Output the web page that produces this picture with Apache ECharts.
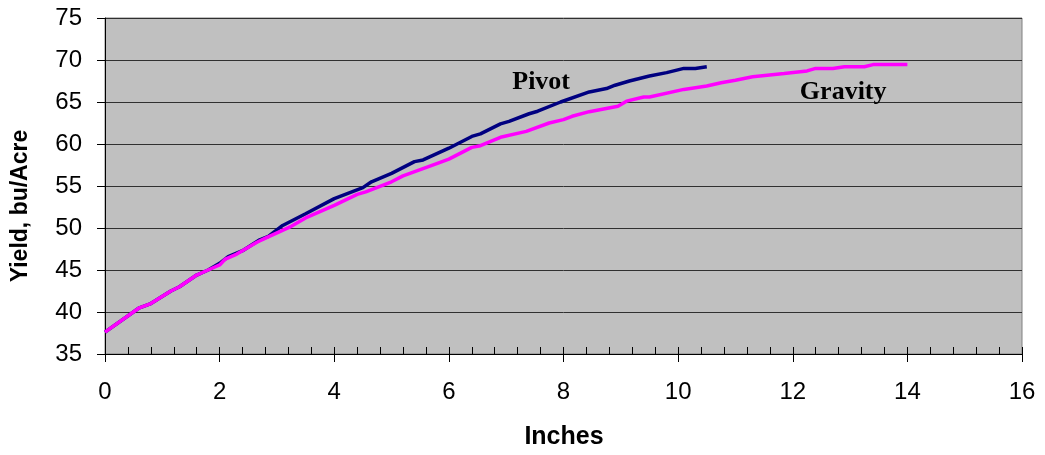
<!DOCTYPE html>
<html>
<head>
<meta charset="utf-8">
<script src="https://cdn.jsdelivr.net/npm/echarts@6/dist/echarts.min.js"></script>
<style>
  html, body { margin: 0; padding: 0; background: #fff; }
  #chart { width: 1045px; height: 455px; }
</style>
</head>
<body>
<div id="chart"></div>
<script>
// Yield response to applied water, by irrigation method
const pivotInches = [0, 0.6, 0.8, 1.15, 1.3, 1.6, 1.8, 2.0, 2.15, 2.4, 2.7, 2.85, 3.1, 3.5, 4.0, 4.5, 4.65, 5.0, 5.4, 5.55, 6.0, 6.4, 6.55, 6.9, 7.05, 7.4, 7.55, 7.95, 8.45, 8.75, 8.9, 9.15, 9.5, 9.8, 10.1, 10.3, 10.5];
const pivotYield  = [37.6, 40.5, 41.0, 42.5, 43.0, 44.4, 45.0, 45.8, 46.6, 47.3, 48.6, 49.0, 50.3, 51.7, 53.5, 54.8, 55.5, 56.5, 57.9, 58.1, 59.5, 60.9, 61.2, 62.4, 62.7, 63.6, 63.9, 65.0, 66.2, 66.6, 67.0, 67.5, 68.1, 68.5, 69.0, 69.0, 69.2];

const gravityInches = [0, 0.6, 0.8, 1.15, 1.3, 1.6, 1.8, 2.0, 2.1, 2.3, 2.65, 2.8, 3.25, 3.5, 4.0, 4.4, 4.55, 5.0, 5.2, 5.8, 6.0, 6.4, 6.55, 6.9, 7.35, 7.75, 8.0, 8.15, 8.45, 8.95, 9.1, 9.4, 9.5, 10.1, 10.5, 10.75, 11.0, 11.3, 11.85, 12.25, 12.4, 12.7, 12.9, 13.25, 13.4, 14.0];
const gravityYield  = [37.6, 40.5, 41.0, 42.5, 43.0, 44.4, 45.0, 45.6, 46.3, 46.9, 48.3, 48.8, 50.2, 51.2, 52.7, 54.0, 54.3, 55.5, 56.2, 57.7, 58.2, 59.6, 59.8, 60.8, 61.5, 62.5, 62.9, 63.3, 63.85, 64.5, 65.1, 65.6, 65.6, 66.5, 66.9, 67.3, 67.6, 68.0, 68.4, 68.7, 69.0, 69.0, 69.2, 69.2, 69.45, 69.45];

const seriesNames = ['Pivot', 'Gravity'];
// where each curve's name is written, in data units (inches, bu/acre)
const nameAnchors = [[7.61, 67.38], [12.88, 66.19]];

const yAxisTitle = 'Yield, bu/Acre';
const xAxisTitle = 'Inches';

const pairs = (xs, ys) => xs.map((x, i) => [x, ys[i]]);

const chart = echarts.init(document.getElementById('chart'));

const sans = '"Liberation Sans", Arial, sans-serif';
const axisFont = { fontFamily: sans, fontSize: 24, color: '#000' };

chart.setOption({
  animation: false,
  backgroundColor: '#fff',
  grid: {
    left: 105, right: 23, top: 18, bottom: 101,
    show: true, backgroundColor: '#C0C0C0', borderColor: '#808080', borderWidth: 1
  },
  xAxis: [
    {
      type: 'value', min: 0, max: 16, interval: 2,
      axisLine: { show: true, onZero: false, lineStyle: { color: '#000', width: 1 } },
      axisTick: { show: true, inside: false, length: 8, lineStyle: { color: '#000' } },
      axisLabel: Object.assign({ margin: 26 }, axisFont),
      splitLine: { show: false }
    },
    {
      // inward ticks every 0.4 in along the bottom edge
      type: 'value', min: 0, max: 16, interval: 0.4, position: 'bottom',
      axisLine: { show: false },
      axisTick: { show: true, inside: true, length: 7, lineStyle: { color: '#000' } },
      axisLabel: { show: false },
      splitLine: { show: false }
    }
  ],
  yAxis: {
    type: 'value', min: 35, max: 75, interval: 5,
    axisLine: { show: true, onZero: false, lineStyle: { color: '#000', width: 1 } },
    axisTick: { show: true, inside: false, length: 8, lineStyle: { color: '#000' } },
    axisLabel: Object.assign({ margin: 23 }, axisFont),
    splitLine: { show: true, lineStyle: { color: '#303030', width: 1 } }
  },
  series: [
    {
      name: seriesNames[0], type: 'line', xAxisIndex: 0,
      data: pairs(pivotInches, pivotYield),
      showSymbol: false, symbol: 'none',
      lineStyle: { color: '#000080', width: 3.5 }
    },
    {
      name: seriesNames[1], type: 'line', xAxisIndex: 0,
      data: pairs(gravityInches, gravityYield),
      showSymbol: false, symbol: 'none',
      lineStyle: { color: '#FF00FF', width: 3.5 }
    }
  ]
});

// curve names, placed through the chart's own scales
const curveLabels = seriesNames.map((name, i) => {
  const p = chart.convertToPixel({ gridIndex: 0 }, nameAnchors[i]);
  return {
    type: 'text', x: p[0], y: p[1],
    style: {
      text: name, align: 'center', verticalAlign: 'middle',
      font: 'bold 26px "Liberation Serif", "Times New Roman", serif', fill: '#000'
    }
  };
});

// axis titles
const titles = [
  {
    type: 'text', x: 21, y: 206, rotation: Math.PI / 2,
    style: { text: yAxisTitle, align: 'center', verticalAlign: 'middle',
             font: 'bold 23px ' + sans, fill: '#000' }
  },
  {
    type: 'text', x: 564, y: 437,
    style: { text: xAxisTitle, align: 'center', verticalAlign: 'middle',
             font: 'bold 25px ' + sans, fill: '#000' }
  }
];

chart.setOption({ graphic: curveLabels.concat(titles) });
</script>
</body>
</html>
